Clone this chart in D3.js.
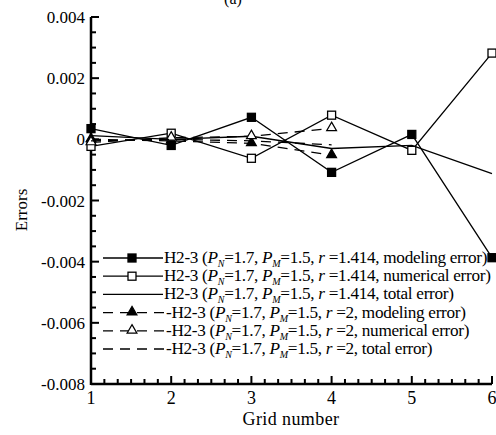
<!DOCTYPE html>
<html>
<head>
<meta charset="utf-8" />
<title>Errors</title>
<script src="https://d3js.org/d3.v7.min.js"></script>
<style>
body{margin:0;background:#fff;}
</style>
</head>
<body>
<div id="chart"></div>
<script>
var grid=[1,2,3,4,5,6];
var grid2=[1,2,3,4];
var model1=[0.00035,-0.0002,0.00072,-0.00108,0.00016,-0.00387];
var numer1=[-0.00023,0.0002,-0.00062,0.00079,-0.00036,0.00282];
var total1=[0.00012,0.0,0.0001,-0.0003,-0.0002,-0.00112];
var model2=[0.0,-0.00005,-0.00013,-0.00052];
var numer2=[-0.0001,0.00005,0.0001,0.00036];
var total2=[-0.00005,0.0,-0.00005,-0.00018];
var yTicks=[-0.008,-0.006,-0.004,-0.002,0,0.002,0.004];
var rVals=["1.414","1.414","1.414","2","2","2"];
var tails=["modeling error)","numerical error)","total error)","modeling error)","numerical error)","total error)"];

var width=496,height=435;
var svg=d3.select("#chart").append("svg").attr("width",width).attr("height",height)
	.attr("font-family","'Liberation Serif','DejaVu Serif','Times New Roman',serif");

var x=d3.scaleLinear().domain([1,6]).range([91,492]);
var y=d3.scaleLinear().domain([-0.008,0.004]).range([384,17]);

// title fragment cut at the top
svg.append("text").attr("x",233).attr("y",4).attr("text-anchor","middle")
	.attr("font-size",16).text("(a)");

// axes with inward ticks
var ax=svg.append("g");
ax.append("line").attr("x1",x(1)).attr("x2",x(6)).attr("y1",y(-0.008)).attr("y2",y(-0.008))
	.attr("stroke","#000").attr("stroke-width",2.5);
ax.append("line").attr("x1",x(1)).attr("x2",x(1)).attr("y1",y(-0.008)+1).attr("y2",y(0.004))
	.attr("stroke","#000").attr("stroke-width",2.5);

var xMinor=d3.range(1,6.001,1/6);
ax.selectAll(".xt").data(xMinor).enter().append("line")
	.attr("x1",d=>x(d)).attr("x2",d=>x(d))
	.attr("y1",y(-0.008))
	.attr("y2",d=>Math.abs(d-Math.round(d))<1e-6?y(-0.008)-8:y(-0.008)-5)
	.attr("stroke","#000").attr("stroke-width",2);
var yMinor=d3.range(-0.008,0.00401,0.0005);
ax.selectAll(".yt").data(yMinor).enter().append("line")
	.attr("y1",d=>y(d)).attr("y2",d=>y(d))
	.attr("x1",x(1))
	.attr("x2",d=>Math.abs(d/0.002-Math.round(d/0.002))<1e-6?x(1)+8:x(1)+5)
	.attr("stroke","#000").attr("stroke-width",2);

ax.selectAll(".xl").data(grid).enter().append("text")
	.attr("x",d=>x(d)).attr("y",404).attr("text-anchor","middle")
	.attr("font-size",18).text(d=>d);
ax.selectAll(".yl").data(yTicks).enter().append("text")
	.attr("x",85).attr("y",d=>y(d)+6).attr("text-anchor","end")
	.attr("font-size",17)
	.text(d=>d===0?"0":d.toFixed(3));

svg.append("text").attr("x",291).attr("y",425).attr("text-anchor","middle")
	.attr("font-size",18).attr("letter-spacing",0.4).text("Grid number");
svg.append("text").attr("transform","translate(27,210) rotate(-90)")
	.attr("text-anchor","middle").attr("font-size",17).text("Errors");

// series
var series=[
	{xs:grid,v:model1,dash:null,mark:"sq",fill:"#000"},
	{xs:grid,v:numer1,dash:null,mark:"sq",fill:"#fff"},
	{xs:grid,v:total1,dash:null,mark:null},
	{xs:grid2,v:model2,dash:"10,7",mark:"tri",fill:"#000"},
	{xs:grid2,v:numer2,dash:"10,7",mark:"tri",fill:"#fff"},
	{xs:grid2,v:total2,dash:"10,7",mark:null}
];
var line=d3.line().x(d=>x(d[0])).y(d=>y(d[1]));
var plot=svg.append("g");

function marker(g,type,fill,cx,cy){
	if(type==="sq"){
		g.append("rect").attr("x",cx-4).attr("y",cy-4).attr("width",8).attr("height",8)
			.attr("fill",fill).attr("stroke","#000").attr("stroke-width",1.3);
	}else if(type==="tri"){
		g.append("path").attr("d",d3.symbol(d3.symbolTriangle,42)())
			.attr("transform","translate("+cx+","+(cy-0.5)+")")
			.attr("fill",fill).attr("stroke","#000").attr("stroke-width",1.2);
	}
}

series.forEach(function(s){
	var pts=s.xs.map((g,i)=>[g,s.v[i]]);
	plot.append("path").attr("d",line(pts)).attr("fill","none")
		.attr("stroke","#000").attr("stroke-width",1.3)
		.attr("stroke-dasharray",s.dash);
	if(s.mark) pts.forEach(p=>marker(plot,s.mark,s.fill,x(p[0]),y(p[1])));
});

// legend
var leg=svg.append("g");
series.forEach(function(s,i){
	var ly=258+i*18.2;
	leg.append("line").attr("x1",103).attr("x2",s.dash?166:163).attr("y1",ly).attr("y2",ly)
		.attr("stroke","#000").attr("stroke-width",1.3).attr("stroke-dasharray",s.dash);
	if(s.mark) marker(leg,s.mark,s.fill,132,ly);
	var t=leg.append("text").attr("x",s.dash?166:164).attr("y",ly+5).attr("font-size",17.2)
		.attr("letter-spacing",-0.3);
	t.append("tspan").text((s.dash?"-":"")+"H2-3 (");
	t.append("tspan").attr("font-style","italic").text("P");
	t.append("tspan").attr("font-style","italic").attr("font-size",10).attr("dy",4).text("N");
	t.append("tspan").attr("dy",-4).text("=1.7, ");
	t.append("tspan").attr("font-style","italic").text("P");
	t.append("tspan").attr("font-style","italic").attr("font-size",10).attr("dy",4).text("M");
	t.append("tspan").attr("dy",-4).text("=1.5, ");
	t.append("tspan").attr("font-style","italic").text("r");
	t.append("tspan").text(" ="+rVals[i]+", "+tails[i]);
});
</script>
</body>
</html>
